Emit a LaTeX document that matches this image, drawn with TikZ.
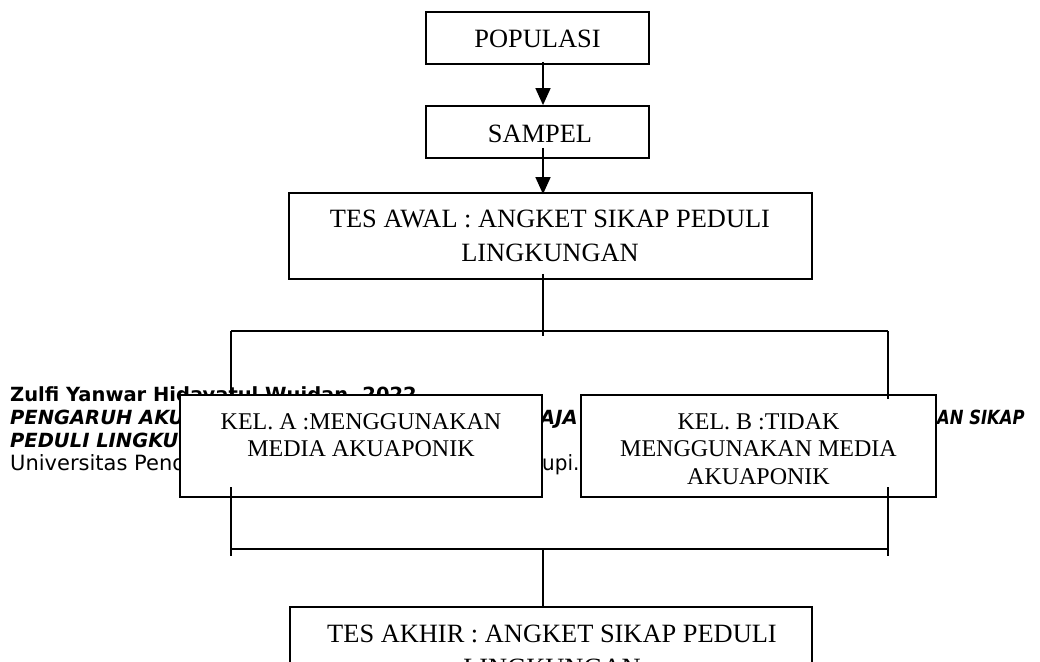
\documentclass[tikz,border=0pt]{standalone}
\usepackage{fontspec}
\setmainfont{Liberation Serif}
\newfontfamily\footfont{DejaVu Sans}
\usetikzlibrary{arrows.meta}
\begin{document}
\begin{tikzpicture}[x=1pt,y=-1pt,
  boxnode/.style={draw=black,fill=white,line width=1.8pt,inner sep=0pt},
  boxtext/.style={inner sep=0pt,align=center,text=black},
  tesfont/.style={font=\fontsize{26.4pt}{34pt}\selectfont},
  kelfont/.style={font=\fontsize{24pt}{27.5pt}\selectfont},
  conn/.style={line width=1.5pt,draw=black},
  arr/.style={conn,-{Triangle[length=17pt,width=15pt]}},
  foot/.style={inner sep=0pt,anchor=base west,text=black},
  footb/.style={foot,font=\footfont\bfseries\fontsize{19.5pt}{23pt}\selectfont},
  footbi/.style={foot,font=\footfont\bfseries\itshape\fontsize{19.5pt}{23pt}\selectfont},
  footr/.style={foot,font=\footfont\fontsize{21pt}{23pt}\selectfont}]
\useasboundingbox (0,0) rectangle (1040,661);
\clip (0,0) rectangle (1040,661);
\fill[white] (0,0) rectangle (1040,661);

% footer text (partly hidden by the boxes)
\node[footb] (f1) at (10,401) {Zulfi Yanwar Hidayatul Wujdan, 2022};
\node[footbi] (f2) at (10,424) {PENGARUH AKUAPONIK};
\node[footbi] (f2b) at (540,424) {AJA};
\node[footbi] (f2c) at (937,424) {\scalebox{0.84}[1]{AN SIKAP}};
\node[footbi] (f3) at (10,447) {PEDULI LINGKUNGAN};
\node[footr] (f4) at (10,470) {Universitas Pendidikan};
\node[footr] (f4b) at (542,470) {\scalebox{0.95}[1]{upi.}};

% boxes
\node[boxnode,minimum width=223pt,minimum height=52pt] (pop) at (537.5,38) {};
\node[boxnode,minimum width=223pt,minimum height=52pt] (sam) at (537.5,132) {};
\node[boxnode,minimum width=523pt,minimum height=86pt] (awal) at (550.5,236) {};
\node[boxnode,minimum width=362pt,minimum height=102pt] (kela) at (361,446) {};
\node[boxnode,minimum width=355pt,minimum height=102pt] (kelb) at (758.5,446) {};
\node[boxnode,minimum width=522pt,minimum height=86pt] (akhir) at (551,650) {};

% box texts
\node[boxtext,tesfont,anchor=base] (tpop) at (537.5,48) {POPULASI};
\node[boxtext,tesfont,anchor=base] (tsam) at (540,142) {SAMPEL};
\node[boxtext,tesfont,anchor=north] (tawal) at (550,210) {TES AWAL : ANGKET SIKAP PEDULI\\LINGKUNGAN};
\node[boxtext,kelfont,anchor=north] (tkela) at (361,413) {KEL. A :MENGGUNAKAN\\MEDIA AKUAPONIK};
\node[boxtext,kelfont,anchor=north] (tkelb) at (758.5,413) {KEL. B :TIDAK\\MENGGUNAKAN MEDIA\\AKUAPONIK};
\node[boxtext,tesfont,anchor=north] (takhir) at (552,625) {TES AKHIR : ANGKET SIKAP PEDULI\\LINGKUNGAN};

% junction points
\coordinate (j1) at (543,336);
\coordinate (lt) at (231,331);
\coordinate (rt) at (888,331);
\coordinate (rtb) at (888,399);
\coordinate (la) at (231,487);
\coordinate (lb) at (231,556);
\coordinate (ra) at (888,487);
\coordinate (rb) at (888,556);
\coordinate (hl) at (231,549);
\coordinate (hr) at (888,549);
\coordinate (j2) at (543,549);

% connectors
\draw[arr] ([xshift=5.5pt,yshift=3pt]pop.south) -- ([xshift=5.5pt]sam.north);
\draw[arr] ([xshift=5.5pt,yshift=11pt]sam.south) -- ([xshift=-7.5pt,yshift=-2pt]awal.north);
\draw[conn] ([xshift=-7.5pt,yshift=6pt]awal.south) -- (j1);
\draw[conn] (lt) -- (rt);
\draw[conn] (lt) -- (lt |- kela.north);
\draw[conn] (rt) -- (rtb);
\draw[conn] (la) -- (lb);
\draw[conn] (ra) -- (rb);
\draw[conn] (hl) -- (hr);
\draw[conn] (j2) -- (j2 |- akhir.north);
\end{tikzpicture}
\end{document}
